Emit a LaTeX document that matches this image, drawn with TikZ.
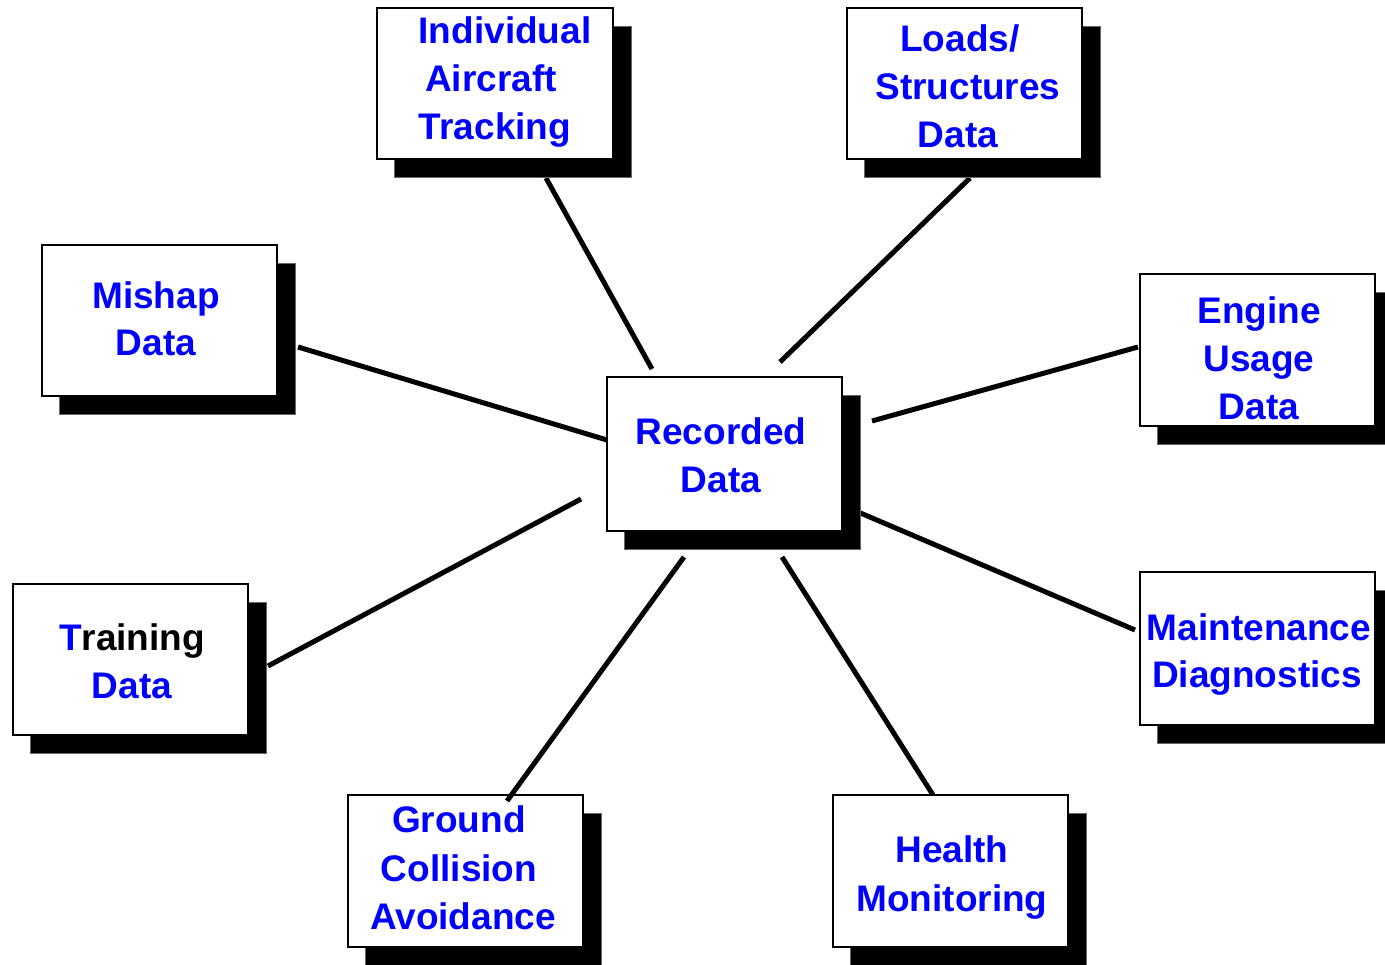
\documentclass[tikz,border=0pt]{standalone}
\usepackage{fontspec}
\setmainfont{Liberation Sans}
\definecolor{txtblue}{RGB}{0,0,255}
\tikzset{
  boxframe/.style={draw=black, line width=2.5pt, fill=white, inner sep=0pt, outer sep=0pt, anchor=north west},
  shadowfill/.style={fill=black, draw=black!60, line width=0.8pt},
  lbl/.style={anchor=base, inner sep=0pt, text=txtblue, font=\bfseries\fontsize{37}{48}\selectfont},
  conn/.style={draw=black, line width=5pt}
}
\newcommand{\mkshadowbox}[5]{%
  \path[shadowfill] ({#2+17},{#3+18}) rectangle ({#4+18},{#5+18});
  \node[boxframe, minimum width={(#4-#2)*1pt}, minimum height={(#5-#3)*1pt}] (#1) at (#2,#3) {};
}
\begin{document}
\begin{tikzpicture}[x=1pt,y=-1pt]
\useasboundingbox[fill=white] (0,0) rectangle (1385,965);

% connectors (behind boxes)
\coordinate (i1) at (546,178); \coordinate (i2) at (652,369);
\coordinate (l1) at (970,178); \coordinate (l2) at (780,362);
\coordinate (m1) at (298,347); \coordinate (m2) at (607,440);
\coordinate (e1) at (1138,347); \coordinate (e2) at (872,421);
\coordinate (t1) at (268,666); \coordinate (t2) at (581,499);
\coordinate (d1) at (858,512); \coordinate (d2) at (1135,630);
\coordinate (g1) at (507,801); \coordinate (g2) at (684,557);
\coordinate (h1) at (933,795); \coordinate (h2) at (782,557);
\draw[conn] (i1) -- (i2);
\draw[conn] (l1) -- (l2);
\draw[conn] (m1) -- (m2);
\draw[conn] (e1) -- (e2);
\draw[conn] (t1) -- (t2);
\draw[conn] (d1) -- (d2);
\draw[conn] (h1) -- (h2);

% boxes
\mkshadowbox{ind}{377}{8}{613}{159}
\mkshadowbox{loads}{847}{8}{1082}{159}
\mkshadowbox{mishap}{42}{245}{277}{396}
\mkshadowbox{engine}{1140}{274}{1375}{426}
\mkshadowbox{rec}{607}{377}{842}{531}
\mkshadowbox{train}{13}{584}{248}{735}
\mkshadowbox{maint}{1140}{572}{1375}{725}
\mkshadowbox{ground}{348}{795}{583}{947}
\mkshadowbox{health}{833}{795}{1068}{947}

% connector overlapping the box top
\draw[conn] (g1) -- (g2);

% texts
\node[lbl] (ind1) at (505,44) {Individual};
\node[lbl] (ind2) at (491,92) {Aircraft};
\node[lbl] (ind3) at (495,140) {Tracking};

\node[lbl] (lo1) at (960,52) {Loads/};
\node[lbl] (lo2) at (968,100) {Structures};
\node[lbl] (lo3) at (958,148) {Data};

\node[lbl] (mi1) at (156,309) {Mishap};
\node[lbl] (mi2) at (156,356) {Data};

\node[lbl] (en1) at (1259,324) {Engine};
\node[lbl] (en2) at (1259,372) {Usage};
\node[lbl] (en3) at (1259,420) {Data};

\node[lbl] (re1) at (721,445) {Recorded};
\node[lbl] (re2) at (721,493) {Data};

\node[lbl, text=black] (tr1) at (132,650) {{\color{txtblue}T}raining};
\node[lbl] (tr2) at (132,698) {Data};

\node[lbl] (ma1) at (1259,640) {Maintenance};
\node[lbl] (ma2) at (1257,687) {Diagnostics};

\node[lbl] (gr1) at (459,832) {Ground};
\node[lbl] (gr2) at (459,881) {Collision};
\node[lbl] (gr3) at (463,929) {Avoidance};

\node[lbl] (he1) at (952,862) {Health};
\node[lbl] (he2) at (952,911) {Monitoring};
\end{tikzpicture}
\end{document}
